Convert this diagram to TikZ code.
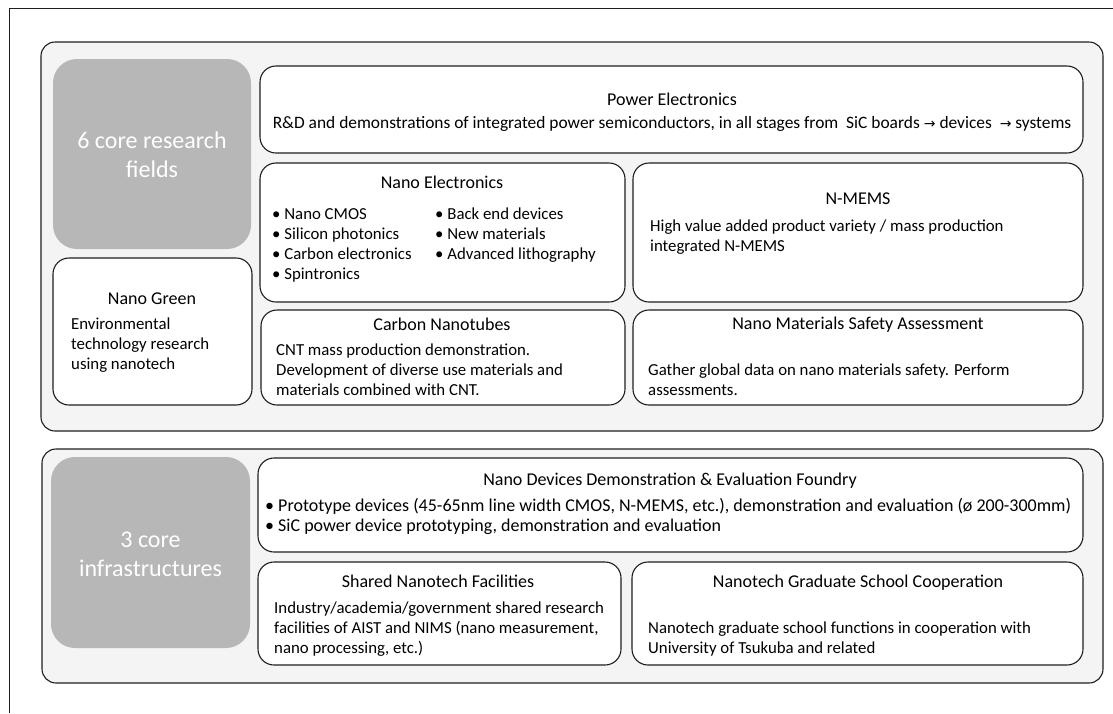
\documentclass[tikz,border=0pt]{standalone}
\usepackage{fontspec}
\setmainfont{Carlito}
\newfontfamily\arrowfont{DejaVu Sans}
\newcommand\bodysize{\fontsize{16.8}{20}\selectfont}
\newcommand\widesize{\fontsize{17.4}{20}\selectfont}
\newcommand\headsize{\fontsize{18}{20}\selectfont}
\newcommand\tagsize{\fontsize{24}{29}\selectfont}
\newcommand\arr{{\arrowfont\fontsize{14}{20}\selectfont →}}
\definecolor{panelgray}{HTML}{F4F4F4}
\definecolor{taggray}{HTML}{B7B7B7}
\definecolor{edge}{HTML}{1E1E1E}
\tikzset{
  panel/.style={draw=edge,line width=1.1pt,fill=panelgray,rounded corners=14pt,inner sep=0},
  cell/.style={draw=edge,line width=1.1pt,fill=white,rounded corners=16pt,inner sep=0},
  tagbox/.style={fill=taggray,rounded corners=24pt,inner sep=0},
  title/.style={font=\headsize,anchor=mid,inner sep=0},
  txt/.style={font=\bodysize,align=left,anchor=north west,inner sep=0},
  tagtxt/.style={font=\tagsize,text=white,align=center,inner sep=0}
}
\begin{document}
\begin{tikzpicture}[x=1pt,y=-1pt]
    \useasboundingbox (0,0) rectangle (1113,713);
    % outer frame, open at the bottom and right
    \coordinate (frameBL) at (9,713);
    \coordinate (frameTL) at (9,8);
    \coordinate (frameTR) at (1113,8);
    \draw[edge,line width=0.9pt] (frameBL) -- (frameTL) -- (frameTR);

    % research fields
    \node[panel,minimum width=1062pt,minimum height=389pt] (fields) at (572,236.5) {};
    \node[tagbox,minimum width=198pt,minimum height=190pt] (fieldsTag) at (152,154) {};
    \node[tagtxt] (fieldsLbl) at (152,154.5) {6 core research\\fields};

    \node[cell,minimum width=823pt,minimum height=87pt] (power) at (671.5,109.5) {};
    \node[title] (powerT) at (672,103) {Power Electronics};
    \node[title,font=\widesize] (powerD) at (672,126) {R\&D and demonstrations of integrated power semiconductors, in all stages from\ \ SiC boards \arr\ devices\ \ \arr\ systems};

    \node[cell,minimum width=365pt,minimum height=139pt] (nanoel) at (442.5,232.5) {};
    \node[title] (nanoelT) at (442,186) {Nano Electronics};
    \node[txt] (nanoelA) at (272,205) {\strut• Nano CMOS\\• Silicon photonics\\• Carbon electronics\\• Spintronics};
    \node[txt] (nanoelB) at (435,205) {\strut• Back end devices\\• New materials\\• Advanced lithography};

    \node[cell,minimum width=450pt,minimum height=139pt] (nmems) at (858,232.5) {};
    \node[title] (nmemsT) at (858,202) {N-MEMS};
    \node[txt] (nmemsD) at (650,217) {\strut High value added product variety / mass production\\integrated N-MEMS};

    \node[cell,minimum width=199pt,minimum height=147pt] (green) at (152.5,331.5) {};
    \node[title] (greenT) at (152,302) {Nano Green};
    \node[txt] (greenD) at (71,315) {\strut Environmental\\technology research\\using nanotech};

    \node[cell,minimum width=364pt,minimum height=95pt] (cnt) at (443,357.5) {};
    \node[title] (cntT) at (442,328) {Carbon Nanotubes};
    \node[txt] (cntD) at (276,341) {\strut CNT mass production demonstration.\\Development of diverse use materials and\\materials combined with CNT.};

    \node[cell,minimum width=450pt,minimum height=95pt] (safety) at (858,357.5) {};
    \node[title] (safetyT) at (858,327) {Nano Materials Safety Assessment};
    \node[txt] (safetyD) at (648,361) {\strut Gather global data on nano materials safety. Perform\\assessments.};

    % infrastructures
    \node[panel,minimum width=1061pt,minimum height=234pt] (infra) at (572.5,566) {};
    \node[tagbox,minimum width=199pt,minimum height=191pt] (infraTag) at (150.5,552.5) {};
    \node[tagtxt] (infraLbl) at (150.5,554) {3 core\\infrastructures};

    \node[cell,minimum width=825pt,minimum height=94pt] (foundry) at (670.5,505) {};
    \node[title] (foundryT) at (670,483) {Nano Devices Demonstration \& Evaluation Foundry};
    \node[txt,font=\headsize] (foundryD) at (265,497) {\strut• Prototype devices (45-65nm line width CMOS, N-MEMS, etc.), demonstration and evaluation (ø 200-300mm)\\• SiC power device prototyping, demonstration and evaluation};

    \node[cell,minimum width=363pt,minimum height=103pt] (shared) at (439.5,613.5) {};
    \node[title] (sharedT) at (438,585) {Shared Nanotech Facilities};
    \node[txt] (sharedD) at (274,599) {\strut Industry/academia/government shared research\\facilities of AIST and NIMS (nano measurement,\\nano processing, etc.)};

    \node[cell,minimum width=451pt,minimum height=103pt] (gradsch) at (857.5,613.5) {};
    \node[title] (gradschT) at (858,585) {Nanotech Graduate School Cooperation};
    \node[txt] (gradschD) at (648,619) {\strut Nanotech graduate school functions in cooperation with\\University of Tsukuba and related};
\end{tikzpicture}
\end{document}
